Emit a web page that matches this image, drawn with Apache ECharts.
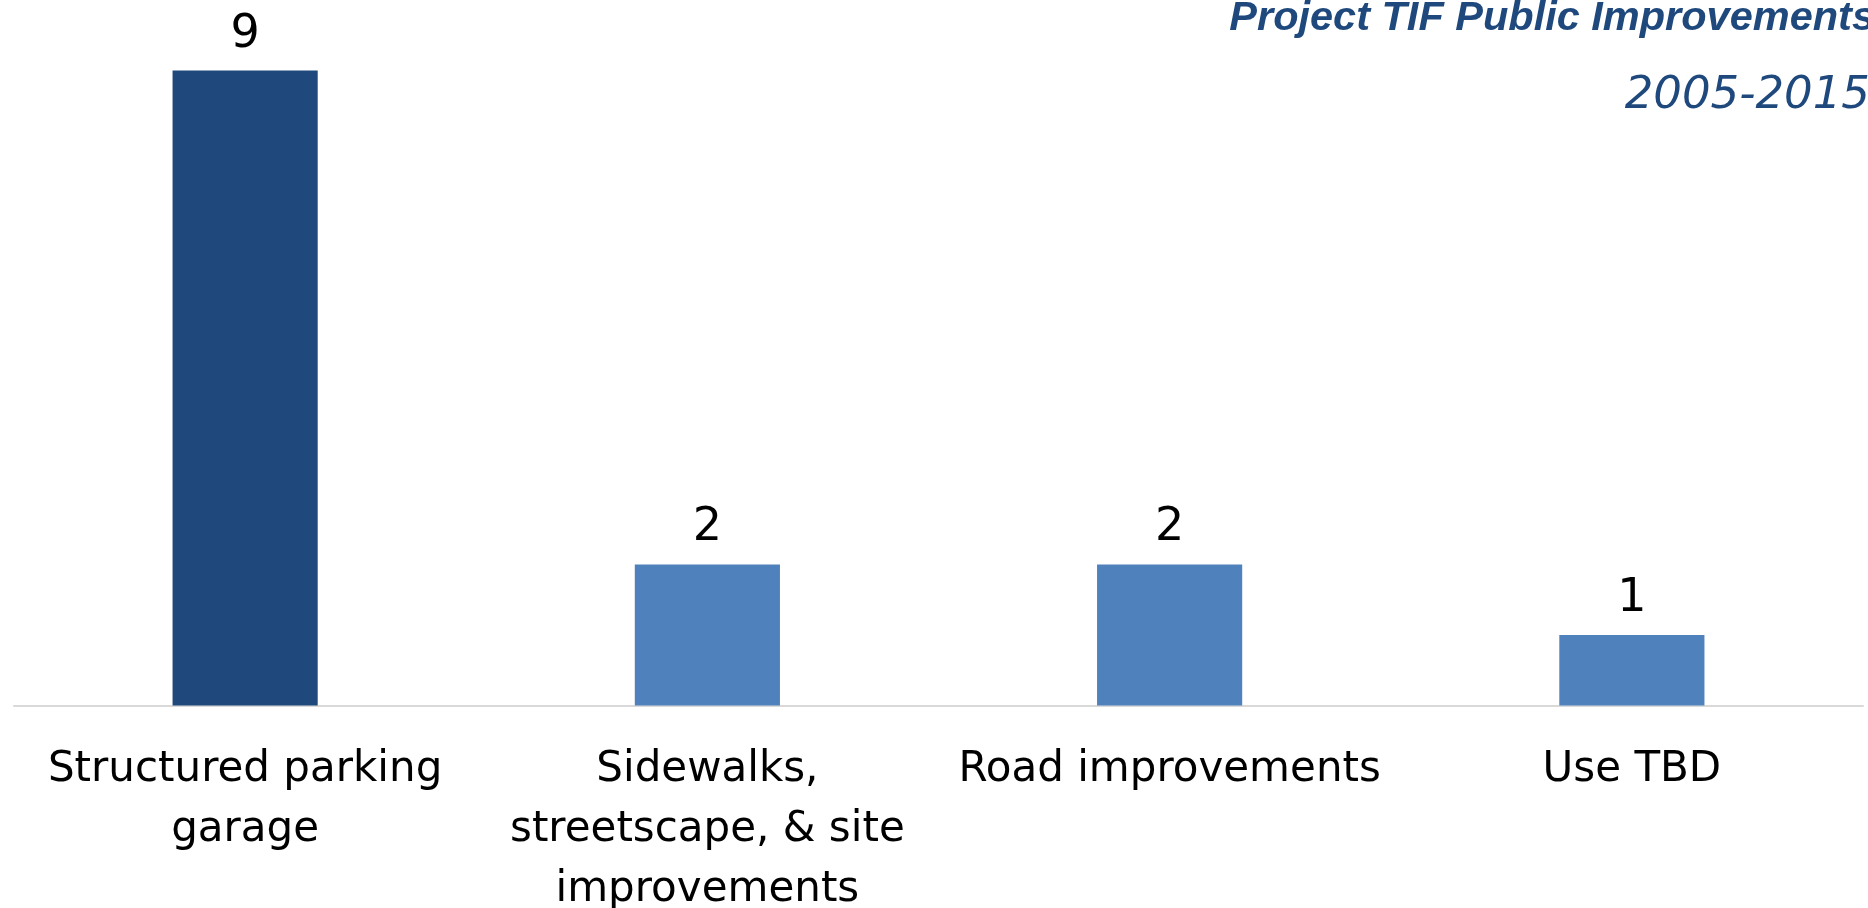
<!DOCTYPE html>
<html>
<head>
<meta charset="utf-8">
<script src="https://cdn.jsdelivr.net/npm/echarts@6/dist/echarts.min.js"></script>
<style>
  html, body { margin: 0; padding: 0; background: #ffffff; }
  #chart { width: 1868px; height: 908px; }
</style>
</head>
<body>
<div id="chart"></div>
<script>
// Improvement categories (axis tick labels) and project counts
const categories = [
  'Structured parking\ngarage',
  'Sidewalks,\nstreetscape, & site\nimprovements',
  'Road improvements',
  'Use TBD'
];
const projectCounts = [9, 2, 2, 1];

const titleText = 'Project TIF Public Improvements';
const subtitleText = '2005-2015';

const DARK_BLUE = '#1F497D';
const MID_BLUE = '#4F81BD';

const chart = echarts.init(document.getElementById('chart'), null, { renderer: 'canvas' });

chart.setOption({
  backgroundColor: '#ffffff',
  animation: false,
  title: [
    {
      text: titleText,
      right: -7,
      top: -2,
      padding: 0,
      textStyle: {
        fontFamily: 'Liberation Sans',
        fontSize: 41.5,
        lineHeight: 41.5,
        fontWeight: 'bold',
        fontStyle: 'italic',
        color: DARK_BLUE
      }
    },
    {
      text: subtitleText,
      right: -2,
      top: 74,
      padding: 0,
      textStyle: {
        fontFamily: 'DejaVu Sans',
        fontSize: 45,
        lineHeight: 45,
        fontWeight: 'normal',
        fontStyle: 'italic',
        color: DARK_BLUE
      }
    }
  ],
  grid: {
    left: 14,
    right: 5,
    top: 0,
    bottom: 202.5,
    containLabel: false,
    outerBoundsMode: 'none'
  },
  xAxis: {
    type: 'category',
    data: categories,
    axisLine: { show: true, lineStyle: { color: '#D9D9D9', width: 2 } },
    axisTick: { show: false },
    axisLabel: {
      interval: 0,
      margin: 35,
      fontFamily: 'DejaVu Sans',
      fontSize: 42,
      lineHeight: 60,
      color: '#000000',
      align: 'center'
    }
  },
  yAxis: {
    type: 'value',
    min: 0,
    max: 10,
    interval: 1,
    show: false,
    splitLine: { show: false }
  },
  series: [
    {
      type: 'bar',
      data: projectCounts,
      barWidth: '31.4%',
      itemStyle: {
        color: function (p) { return p.dataIndex === 0 ? DARK_BLUE : MID_BLUE; }
      },
      label: {
        show: true,
        position: 'top',
        distance: 13,
        fontFamily: 'DejaVu Sans',
        fontSize: 46,
        lineHeight: 46,
        color: '#000000'
      }
    }
  ]
});
</script>
</body>
</html>
